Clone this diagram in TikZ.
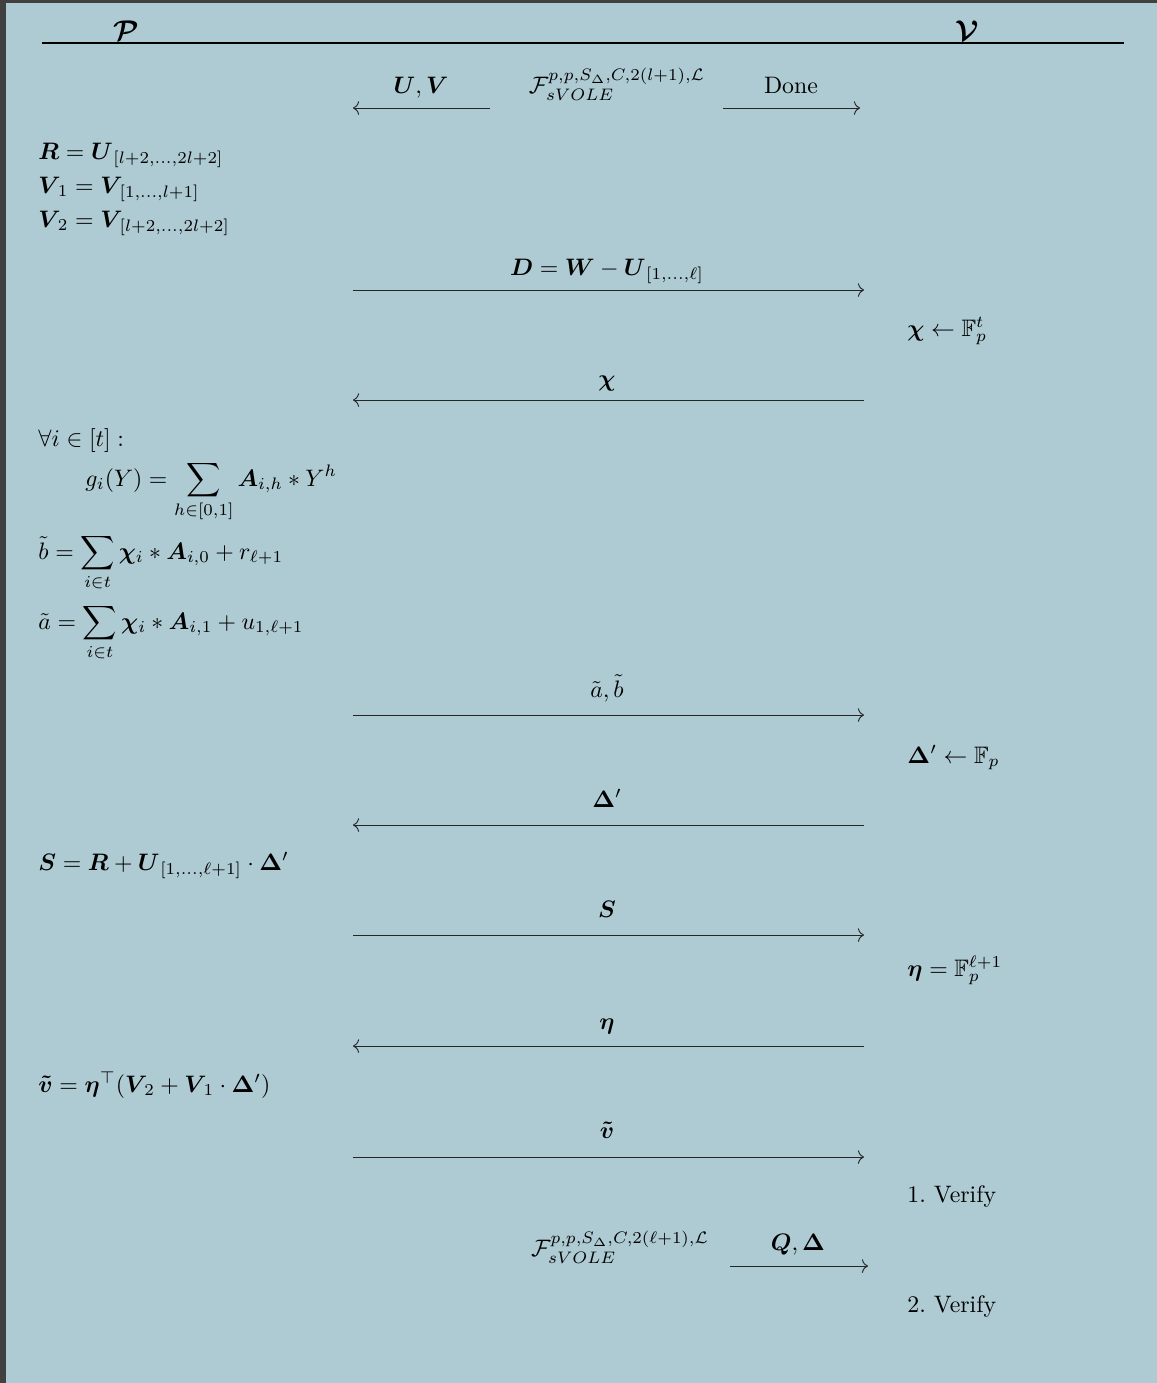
\documentclass[tikz,border=0pt]{standalone}
\usepackage{amsmath,amssymb,bm}
\usetikzlibrary{arrows.meta}

\definecolor{protobg}{RGB}{174,202,210}
\definecolor{frameedge}{RGB}{64,64,64}

\begin{document}
\begin{tikzpicture}[
  x=0.42pt,
  y=-0.42pt,
  party/.style={anchor=base, inner sep=0pt, font=\large},
  calc/.style={anchor=base west, inner sep=0pt},
  msg/.style={anchor=base, inner sep=0pt},
  send/.style={line width=0.4pt, black!85, -{To[length=0.9mm,width=2mm]}}
]
\useasboundingbox (0,0) rectangle (1157,1383);
\fill[protobg] (0,0) rectangle (1157,1383);
\fill[frameedge] (0,0) rectangle (6,1383);
\fill[frameedge] (0,0) rectangle (1157,3);

% parties
\node[party] (prover) at (126,40) {$\bm{\mathcal{P}}$};
\node[party] (verifier) at (967,40) {$\bm{\mathcal{V}}$};
\coordinate (headL) at (42,43);
\coordinate (headR) at (1124,43);
\draw[line width=0.5pt] (headL) -- (headR);

% setup with the functionality
\node[msg] (uv) at (421,93) {$\bm{U},\bm{V}$};
\node[msg] (func1) at (617,93) {$\mathcal{F}_{sVOLE}^{p,p,S_\Delta,C,2(l+1),\mathcal{L}}$};
\node[msg] (done) at (791,93) {Done};
\coordinate (uvL) at (353,108);
\coordinate (uvR) at (490,108);
\coordinate (doneL) at (723,108);
\coordinate (doneR) at (860,108);
\draw[send] (uvR) -- (uvL);
\draw[send] (doneL) -- (doneR);

% prover side
\node[calc] (rdef) at (38,159) {$\bm{R} = \bm{U}_{\,[l+2,\ldots,2l+2]}$};
\node[calc] (vone) at (38,193) {$\bm{V}_{\,1} = \bm{V}_{\,[1,\ldots,l+1]}$};
\node[calc] (vtwo) at (38,227) {$\bm{V}_{\,2} = \bm{V}_{\,[l+2,\ldots,2l+2]}$};
\node[calc] (forall) at (38,446) {$\forall i \in [t]:$};
\node[calc] (gpoly) at (85,486) {$\displaystyle g_i(Y) = \sum_{h\in[0,1]} \bm{A}_{i,h} * Y^h$};
\node[calc] (btilde) at (38,559) {$\displaystyle \tilde{b} = \sum_{i\in t} \bm{\chi}_i * \bm{A}_{i,0} + r_{\ell+1}$};
\node[calc] (atilde) at (38,629) {$\displaystyle \tilde{a} = \sum_{i\in t} \bm{\chi}_i * \bm{A}_{i,1} + u_{1,\ell+1}$};
\node[calc] (sdef) at (38,870) {$\bm{S} = \bm{R} + \bm{U}_{\,[1,\ldots,\ell+1]} \cdot \bm{\Delta}'$};
\node[calc] (vdef) at (38,1092) {$\bm{\tilde{v}} = \bm{\eta}^\top(\bm{V}_{\,2} + \bm{V}_{\,1} \cdot \bm{\Delta}')$};

% verifier side
\node[calc] (chipick) at (907,336) {$\bm{\chi} \leftarrow \mathbb{F}_p^t$};
\node[calc] (deltapick) at (907,763) {$\bm{\Delta}' \leftarrow \mathbb{F}_p$};
\node[calc] (etapick) at (907,976) {$\bm{\eta} = \mathbb{F}_p^{\ell+1}$};
\node[calc] (verone) at (907,1202) {1.\ Verify};
\node[calc] (vertwo) at (907,1312) {2.\ Verify};

% messages
\node[msg] (dmsg) at (607,275) {$\bm{D} = \bm{W} - \bm{U}_{\,[1,\ldots,\ell]}$};
\node[msg] (chimsg) at (607,386) {$\bm{\chi}$};
\node[msg] (abmsg) at (607,697) {$\tilde{a},\tilde{b}$};
\node[msg] (deltamsg) at (607,807) {$\bm{\Delta}'$};
\node[msg] (smsg) at (607,917) {$\bm{S}$};
\node[msg] (etamsg) at (607,1029) {$\bm{\eta}$};
\node[msg] (vmsg) at (607,1138) {$\bm{\tilde{v}}$};

\foreach \nm/\y in {dm/290, chim/400, abm/715, deltam/825, sm/935, etam/1046, vm/1157} {
  \coordinate (\nm-l) at (353,\y);
  \coordinate (\nm-r) at (864,\y);
}
\draw[send] (dm-l) -- (dm-r);
\draw[send] (chim-r) -- (chim-l);
\draw[send] (abm-l) -- (abm-r);
\draw[send] (deltam-r) -- (deltam-l);
\draw[send] (sm-l) -- (sm-r);
\draw[send] (etam-r) -- (etam-l);
\draw[send] (vm-l) -- (vm-r);

% opening with the functionality
\node[msg] (func2) at (620,1256) {$\mathcal{F}_{sVOLE}^{p,p,S_\Delta,C,2(\ell+1),\mathcal{L}}$};
\node[msg] (qdmsg) at (798,1250) {$\bm{Q},\bm{\Delta}$};
\coordinate (qdL) at (730,1266);
\coordinate (qdR) at (868,1266);
\draw[send] (qdL) -- (qdR);
\end{tikzpicture}
\end{document}
